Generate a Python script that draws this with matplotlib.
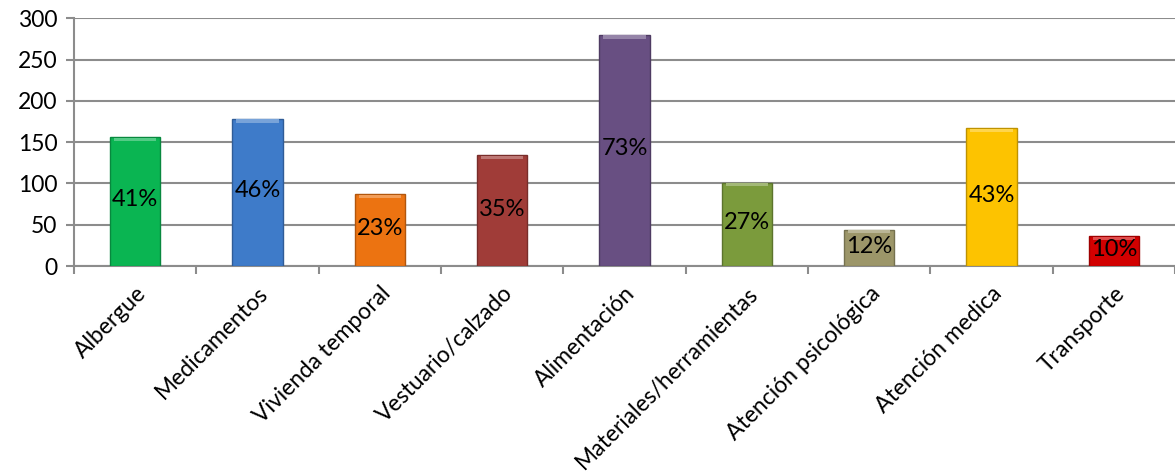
import numpy as np
import matplotlib
matplotlib.use("Agg")
import matplotlib.pyplot as plt
from matplotlib.colors import to_rgb

# Data
categories = ["Albergue", "Medicamentos", "Vivienda temporal", "Vestuario/calzado",
              "Alimentación", "Materiales/herramientas", "Atención psicológica",
              "Atención medica", "Transporte"]
values = [156, 178, 87, 134, 280, 101, 44, 167, 36]
percent_labels = ["41%", "46%", "23%", "35%", "73%", "27%", "12%", "43%", "10%"]
bar_colors = ["#0ab552", "#3e7bc9", "#ec7311", "#a03c38", "#684f82",
              "#7b9b3c", "#9c9669", "#fdc300", "#d20000"]
y_ticks = [0, 50, 100, 150, 200, 250, 300]

plt.rcParams['font.family'] = ['Lato', 'DejaVu Sans']

fig = plt.figure(figsize=(11.75, 4.73), dpi=100)
ax = fig.add_axes([74 / 1175, 1 - 266 / 473, 1 - 74 / 1175, (266 - 18.3) / 473])

x = np.arange(len(categories))
width = 0.41


def shade(color, factor):
    r, g, b = to_rgb(color)
    if factor > 1:
        return tuple(c + (1 - c) * (factor - 1) for c in (r, g, b))
    return tuple(c * factor for c in (r, g, b))


bars = ax.bar(x, values, width=width, color=bar_colors, zorder=3,
              edgecolor=[shade(c, 0.75) for c in bar_colors], linewidth=1)

# light bevel strip on top of each bar
for xi, v, c in zip(x, values, bar_colors):
    ax.bar(xi, 4, bottom=v - 4.5, width=width * 0.85, color=shade(c, 1.3),
           zorder=4, linewidth=0)

for xi, v, lab in zip(x, values, percent_labels):
    ax.text(xi, v / 2 + 2, lab, ha='center', va='center', fontsize=17,
            color='black', zorder=5)

ax.set_ylim(0, 300)
ax.set_xlim(-0.5, 8.45)
ax.set_yticks(y_ticks)
ax.yaxis.grid(True, color='#8c8c8c', linewidth=1.5, zorder=0)
ax.set_axisbelow(True)

ax.set_xticks(x)
ax.set_xticklabels(categories, rotation=45, ha='right', rotation_mode='anchor',
                   fontsize=16.5)
ax.tick_params(axis='x', which='major', length=0, pad=12)
ax.set_xticks(np.arange(-0.5, len(categories), 1), minor=True)
ax.tick_params(axis='x', which='minor', length=6, color='#8c8c8c', width=1.5,
               direction='out')
ax.tick_params(axis='y', length=6, color='#8c8c8c', width=1.5, labelsize=16.5, pad=6)

for side in ['top', 'right']:
    ax.spines[side].set_visible(False)
for side in ['left', 'bottom']:
    ax.spines[side].set_color('#8c8c8c')
    ax.spines[side].set_linewidth(1.5)

fig.savefig("out.png", dpi=100)
